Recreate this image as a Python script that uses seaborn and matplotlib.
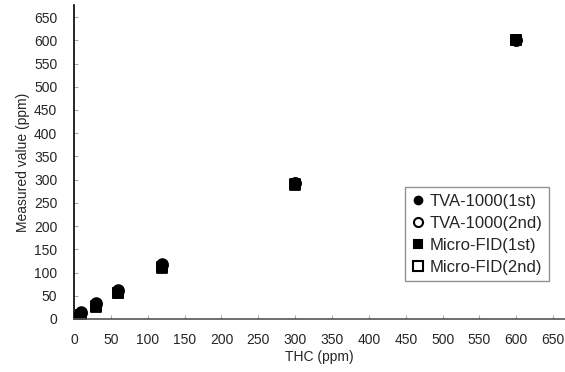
import pandas as pd
import seaborn as sns
import matplotlib.pyplot as plt

# THC concentration (ppm) and measured values for each instrument/run
thc = [5, 10, 30, 60, 120, 300, 600]
tva_1st = [6, 14, 34, 63, 118, 293, 600]
tva_2nd = [5, 13, 32, 61, 116, 292, 600]
fid_1st = [3, 9, 27, 57, 112, 290, 600]
fid_2nd = [2, 8, 25, 55, 110, 289, 600]

labels = ["TVA-1000(1st)", "TVA-1000(2nd)", "Micro-FID(1st)", "Micro-FID(2nd)"]
ticks = list(range(0, 651, 50))

sns.set_style("white")
plt.rcParams['font.family'] = ['Liberation Sans', 'DejaVu Sans']

fig = plt.figure(figsize=(5.65, 3.72), dpi=100)
ax = fig.add_axes([0.131, 0.1425, 0.869, 0.844])

series = {
    labels[0]: (tva_1st, 'o', 'black'),
    labels[1]: (tva_2nd, 'o', 'white'),
    labels[2]: (fid_1st, 's', 'black'),
    labels[3]: (fid_2nd, 's', 'white'),
}

# circles underneath, squares on top
handles = {}
for name in [labels[1], labels[0], labels[3], labels[2]]:
    vals, mk, fc = series[name]
    df = pd.DataFrame({'THC': thc, 'value': vals})
    sns.scatterplot(data=df, x='THC', y='value', marker=mk, s=60,
                    facecolor=fc, edgecolor='black', linewidth=1.3, ax=ax)
    handles[name] = plt.Line2D([], [], linestyle='', marker=mk, markersize=5.5 if fc == 'black' else 6.5,
                               markerfacecolor=fc, markeredgecolor='black', markeredgewidth=1.5)

ax.set_xlim(0, 666)
ax.set_ylim(0, 676)
ax.set_xticks(ticks)
ax.set_yticks(ticks)
ax.tick_params(bottom=True, left=True, direction='in', length=3, width=0.8,
               color='#aaaaaa', labelsize=10, pad=10)
ax.tick_params(axis='y', pad=12)
ax.set_xlabel("THC (ppm)", fontsize=10, labelpad=2)
ax.set_ylabel("Measured value (ppm)", fontsize=10, labelpad=3)
sns.despine(ax=ax)
ax.spines['left'].set_color('black')
ax.spines['bottom'].set_color('#555555')
ax.spines['left'].set_linewidth(1.2)
ax.spines['bottom'].set_linewidth(1.2)

leg = ax.legend([handles[l] for l in labels], labels, loc='upper left',
                bbox_to_anchor=(405 / 565, 1 - 187 / 372), bbox_transform=fig.transFigure,
                fancybox=False, frameon=True, fontsize=12, handlelength=0.7,
                handletextpad=0.35, labelspacing=0.42, borderpad=0.4, borderaxespad=0)
leg.get_frame().set_edgecolor('#777777')
leg.get_frame().set_linewidth(1.0)

plt.savefig("out.png")
